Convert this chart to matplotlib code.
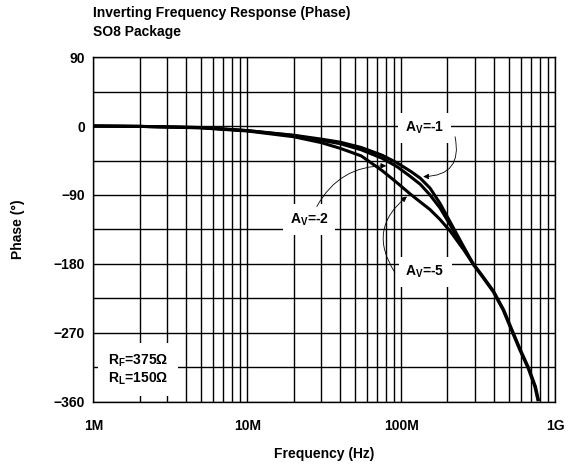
import matplotlib
matplotlib.use("Agg")
import matplotlib.pyplot as plt
from matplotlib.ticker import FixedLocator, NullFormatter
import numpy as np

plt.rcParams['font.family'] = ['Liberation Sans', 'DejaVu Sans']
plt.rcParams['font.weight'] = 'bold'
plt.rcParams['mathtext.fontset'] = 'custom'
plt.rcParams['mathtext.rm'] = 'Liberation Sans:bold'
plt.rcParams['mathtext.bf'] = 'Liberation Sans:bold'

freq_mhz = [1, 2, 5, 10, 20, 30, 40, 55, 75, 94, 115, 133, 154, 179, 208, 254, 294]
phase_av1 = [0, -0.5, -2, -6, -12, -17, -21, -28, -38, -48, -59, -68, -81, -101, -125, -157, -180]
phase_av2 = [0, -0.5, -2, -6, -12.5, -18.5, -23, -31, -42, -53, -66, -76, -90, -107, -129, -159, -180]
phase_av5 = [0, -0.5, -2.5, -6.5, -14, -21.5, -29, -39, -58, -74, -89, -99, -109, -122, -137, -161, -180]
# common tail after the curves meet
tail_mhz = [294, 340, 398, 462, 523, 593, 672, 743, 780]
tail_phase = [-180, -197, -216, -240, -266, -292, -316, -340, -359]

x_ticks = [1e6, 1e7, 1e8, 1e9]
x_labels = ['1M', '10M', '100M', '1G']
y_ticks = [90, 0, -90, -180, -270, -360]

fig = plt.figure(figsize=(5.71, 4.74), dpi=100)
ax = fig.add_axes([0.1637, 0.152, 0.8083, 0.7277])

f = np.array(freq_mhz) * 1e6
ft = np.array(tail_mhz) * 1e6
for ph in (phase_av1, phase_av2, phase_av5):
    ax.plot(f, ph, color='black', lw=2.2, solid_capstyle='butt', solid_joinstyle='round', zorder=3)
ax.plot(ft, tail_phase, color='black', lw=2.6, solid_capstyle='butt', solid_joinstyle='round', zorder=3)

ax.set_xscale('log')
ax.set_xlim(1e6, 1e9)
ax.set_ylim(-360, 90)
ax.set_xticks(x_ticks)
ax.set_xticklabels(x_labels)
ax.xaxis.set_minor_formatter(NullFormatter())
ax.set_yticks(y_ticks)
ax.yaxis.set_minor_locator(FixedLocator(np.arange(-360, 91, 45)))
ax.grid(True, which='both', color='black', lw=1.0)
ax.tick_params(which='both', length=0, labelsize=10)
ax.tick_params(axis='y', pad=6)
ax.tick_params(axis='x', pad=12)
for s in ax.spines.values():
    s.set_linewidth(1.0)

ax.set_ylabel('Phase (°)', fontsize=10, fontweight='bold')
ax.yaxis.set_label_coords(-0.148, 0.5)
ax.set_xlabel('Frequency (Hz)', fontsize=10, fontweight='bold')
ax.xaxis.set_label_coords(0.5, -0.13)
ax.xaxis.label.set_va('top')

box = dict(facecolor='white', edgecolor='none', pad=5)
ax.text(141e6, -2.6, r'A$_\mathbf{V}$=-1', fontsize=10, ha='center', va='center', bbox=box, zorder=5)
ax.text(25.2e6, -122, r'A$_\mathbf{V}$=-2', fontsize=10, ha='center', va='center', bbox=box, zorder=5)
ax.text(143e6, -190, r'A$_\mathbf{V}$=-5', fontsize=10, ha='center', va='center', bbox=box, zorder=5)

arrow = dict(arrowstyle='-|>', color='black', lw=0.6, mutation_scale=8, shrinkA=0, shrinkB=0)
ax.annotate('', xy=(139e6, -66), xytext=(224e6, -14),
            arrowprops=dict(arrow, connectionstyle='arc3,rad=-0.6'), zorder=6)
ax.annotate('', xy=(80e6, -52), xytext=(28.3e6, -105),
            arrowprops=dict(arrow, connectionstyle='arc3,rad=-0.3'), zorder=6)
ax.annotate('', xy=(109e6, -92), xytext=(91e6, -191),
            arrowprops=dict(arrow, connectionstyle='arc3,rad=-0.45'), zorder=6)

ax.text(1.24e6, -318, 'R$_\\mathbf{F}$=375Ω\nR$_\\mathbf{L}$=150Ω', fontsize=10,
        ha='left', va='center', linespacing=1.1,
        bbox=dict(facecolor='white', edgecolor='none', pad=7), zorder=5)

fig.text(0.1629, 1 - 16.7 / 474, 'Inverting Frequency Response (Phase)', fontsize=10,
         fontweight='bold', va='baseline')
fig.text(0.1629, 1 - 35.7 / 474, 'SO8 Package', fontsize=10, fontweight='bold', va='baseline')

fig.savefig('out.png', dpi=100)
